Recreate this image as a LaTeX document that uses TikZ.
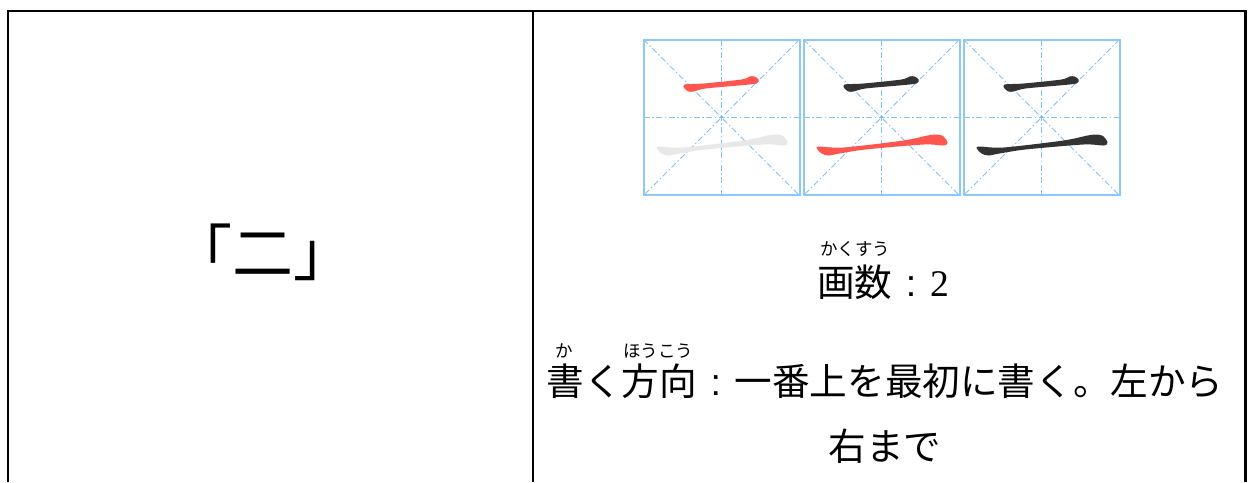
\documentclass[tikz,border=0pt]{standalone}
\usepackage{fontspec}
\newfontfamily\jp{Noto Sans CJK JP}
\newfontfamily\tm{Liberation Serif}
\newfontfamily\ls{Liberation Sans}
\definecolor{boxblue}{HTML}{8CC8F8}
\definecolor{guideblue}{HTML}{80C2F2}
\definecolor{strokered}{HTML}{FF554F}
\definecolor{strokedark}{HTML}{333333}
\definecolor{strokegray}{HTML}{E8E8E8}
\tikzset{
  tableline/.style={line width=2.3pt, black},
  gridbox/.style={line width=2pt, boxblue},
  guide/.style={line width=1pt, guideblue, dash pattern=on 6pt off 2.5pt on 1.5pt off 2.5pt},
  txt/.style={inner sep=0pt, anchor=base, font=\jp},
}
\newcommand{\jcolon}{\makebox[1em][c]{\ls :}}
\newcommand{\strokeone}[1]{%
  \fill[#1] plot[smooth cycle, tension=0.5] coordinates {(41,45) (60,44) (98,40) (106,37) (111,37) (115,40) (113,44) (95,46) (62,49) (50,52) (45,52) (41,49)};}
\newcommand{\stroketwo}[1]{%
  \fill[#1] plot[smooth cycle, tension=0.5] coordinates {(15,107) (40,108) (100,101) (124,96) (134,95) (140,97) (144,103) (140,106) (120,105) (62,110) (36,114) (25,116) (18,114) (14,110)};}
\newcommand{\gridcell}[1]{%
  \begin{scope}[shift={(#1,39.5)}]
    \draw[guide] (0,78) -- (156,78);
    \draw[guide] (78,0) -- (78,156);
    \draw[guide] (0,0) -- (156,156);
    \draw[guide] (156,0) -- (0,156);
    \draw[gridbox] (0,0) rectangle (156,155);
  \end{scope}}
\begin{document}
\begin{tikzpicture}[x=1pt,y=-1pt]
\useasboundingbox (0,0) rectangle (1249,482);
\fill[white] (0,0) rectangle (1249,482);
% table
\draw[tableline] (7.8,482) -- (7.8,11) -- (1245.5,11) -- (1245.5,482);
\draw[tableline] (533,11) -- (533,482);
% grid cells
\gridcell{643.5}
\gridcell{803.5}
\gridcell{963.5}
\begin{scope}[shift={(643.5,39.5)}]
  \strokeone{strokered}
  \stroketwo{strokegray}
\end{scope}
\begin{scope}[shift={(803.5,39.5)}]
  \strokeone{strokedark}
  \stroketwo{strokered}
\end{scope}
\begin{scope}[shift={(963.5,39.5)}]
  \strokeone{strokedark}
  \stroketwo{strokedark}
\end{scope}
% texts
\node[txt, font=\jp\fontsize{61}{61}\selectfont] (kanji) at (263,275) {「二」};
\node[txt, font=\jp\fontsize{17.5}{17.5}\selectfont] (ruby1) at (855,255) {かくすう};
\node[txt, font=\jp\fontsize{37.6}{37.6}\selectfont] (kakusu) at (883,296) {画数\jcolon{\tm 2}};
\node[txt, font=\jp\fontsize{17.5}{17.5}\selectfont] (ruby2) at (564.5,357) {か};
\node[txt, font=\jp\fontsize{17.5}{17.5}\selectfont] (ruby3) at (658,357) {ほうこう};
\node[txt, font=\jp\fontsize{37.6}{37.6}\selectfont] (line1) at (885,395) {書く方向\jcolon 一番上を最初に書く。左から};
\node[txt, font=\jp\fontsize{37.6}{37.6}\selectfont] (line2) at (885,460) {右まで};
\end{tikzpicture}
\end{document}
